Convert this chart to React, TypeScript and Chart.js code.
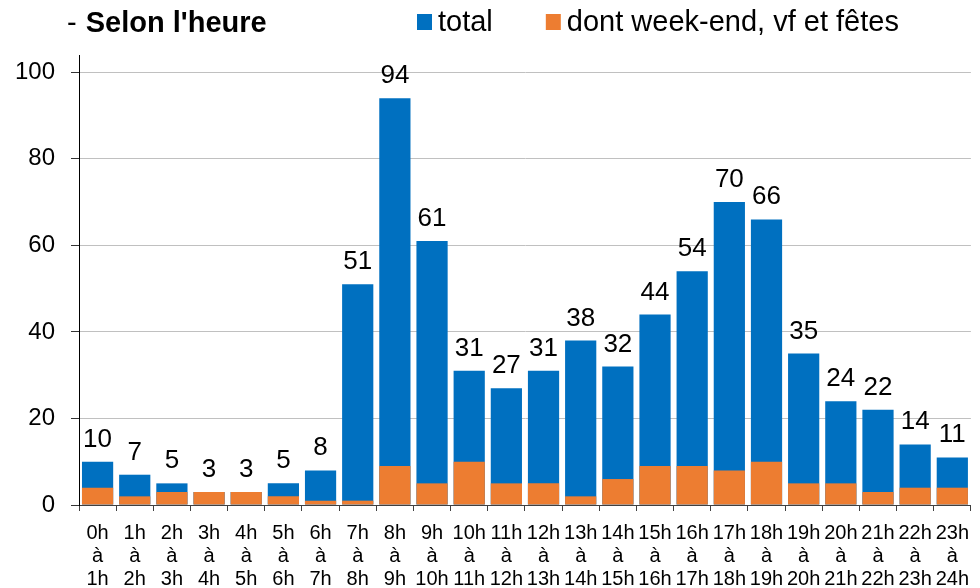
import React, { useEffect, useRef } from "react";
import { Chart, registerables } from "chart.js";

Chart.register(...registerables);

const startHours = ["0h","1h","2h","3h","4h","5h","6h","7h","8h","9h","10h","11h","12h","13h","14h","15h","16h","17h","18h","19h","20h","21h","22h","23h"];
const endHours = ["1h","2h","3h","4h","5h","6h","7h","8h","9h","10h","11h","12h","13h","14h","15h","16h","17h","18h","19h","20h","21h","22h","23h","24h"];
const totalValues = [10, 7, 5, 3, 3, 5, 8, 51, 94, 61, 31, 27, 31, 38, 32, 44, 54, 70, 66, 35, 24, 22, 14, 11];
const weekendValues = [4, 2, 3, 3, 3, 2, 1, 1, 9, 5, 10, 5, 5, 2, 6, 9, 9, 8, 10, 5, 5, 3, 4, 4];
const yTicks = [0, 20, 40, 60, 80, 100];
const titleDash = "- ";
const chartTitle = "Selon l'heure";
const seriesNames = ["total", "dont week-end, vf et fêtes"];
const seriesColors = ["#0070C0", "#ED7D31"];

const FONT = "'Liberation Sans', Arial, sans-serif";

const dataLabelPlugin = {
  id: "dataLabels",
  afterDatasetsDraw(chart: any) {
    const meta = chart.getDatasetMeta(0);
    const ctx = chart.ctx;
    ctx.save();
    ctx.font = `26px ${FONT}`;
    ctx.fillStyle = "#000";
    ctx.textAlign = "center";
    ctx.textBaseline = "alphabetic";
    meta.data.forEach((bar: any, i: number) => {
      ctx.fillText(String(totalValues[i]), bar.x, bar.y - 15);
    });
    ctx.restore();
  },
};

const headerPlugin = {
  id: "header",
  afterDraw(chart: any) {
    const ctx = chart.ctx;
    ctx.save();
    ctx.fillStyle = "#000";
    ctx.textBaseline = "middle";
    ctx.textAlign = "left";
    ctx.font = `29px ${FONT}`;
    ctx.fillText(titleDash, 67, 24);
    const dashW = ctx.measureText(titleDash).width;
    ctx.font = `bold 29px ${FONT}`;
    ctx.fillText(chartTitle, 67 + dashW + 1, 24);
    ctx.font = `29px ${FONT}`;
    let x = 417;
    seriesNames.forEach((name, i) => {
      ctx.fillStyle = seriesColors[i];
      ctx.fillRect(x, 14, 15, 16);
      ctx.fillStyle = "#000";
      ctx.fillText(name, x + 21, 23);
      x += 21 + ctx.measureText(name).width + 53;
    });
    ctx.restore();
  },
};

export default function App() {
  const ref = useRef<HTMLCanvasElement | null>(null);
  useEffect(() => {
    if (!ref.current) return;
    const chart = new Chart(ref.current, {
      type: "bar",
      data: {
        labels: startHours.map((h, i) => [h, "à", endHours[i]]),
        datasets: [
          {
            label: seriesNames[0],
            data: totalValues,
            backgroundColor: seriesColors[0],
            order: 1,
          },
          {
            label: seriesNames[1],
            data: weekendValues,
            backgroundColor: seriesColors[1],
            order: 0,
          },
        ],
      },
      options: {
        animation: false,
        responsive: true,
        maintainAspectRatio: false,
        layout: { padding: { top: 55, left: 0, right: 0, bottom: 0 } },
        datasets: {
          bar: { grouped: false, barPercentage: 0.84, categoryPercentage: 1 },
        } as any,
        plugins: {
          legend: { display: false },
          title: { display: false },
          tooltip: { enabled: false },
        },
        scales: {
          x: {
            afterFit: (axis: any) => {
              axis.height = 83;
            },
            grid: {
              display: true,
              drawOnChartArea: false,
              offset: true,
              tickLength: 6,
              color: "#404040",
            },
            border: { color: "#404040", width: 1 },
            ticks: {
              color: "#000",
              font: { family: FONT, size: 20, lineHeight: 1.15 },
              padding: 11,
              maxRotation: 0,
              autoSkip: false,
            },
          },
          y: {
            min: 0,
            max: 104,
            afterFit: (axis: any) => {
              axis.width = 79;
            },
            afterBuildTicks: (axis: any) => {
              axis.ticks = yTicks.map((v) => ({ value: v }));
            },
            grid: {
              color: "#c0c0c0",
              tickColor: "#333",
              tickLength: 8,
            },
            border: { color: "#000", width: 1 },
            ticks: {
              color: "#000",
              font: { family: FONT, size: 24 },
              padding: 16,
            },
          },
        },
      },
      plugins: [dataLabelPlugin, headerPlugin],
    });
    return () => chart.destroy();
  }, []);
  return (
    <div style={{ position: "fixed", left: 0, top: 0, width: 980, height: 588, background: "#fff" }}>
      <canvas ref={ref} />
    </div>
  );
}
